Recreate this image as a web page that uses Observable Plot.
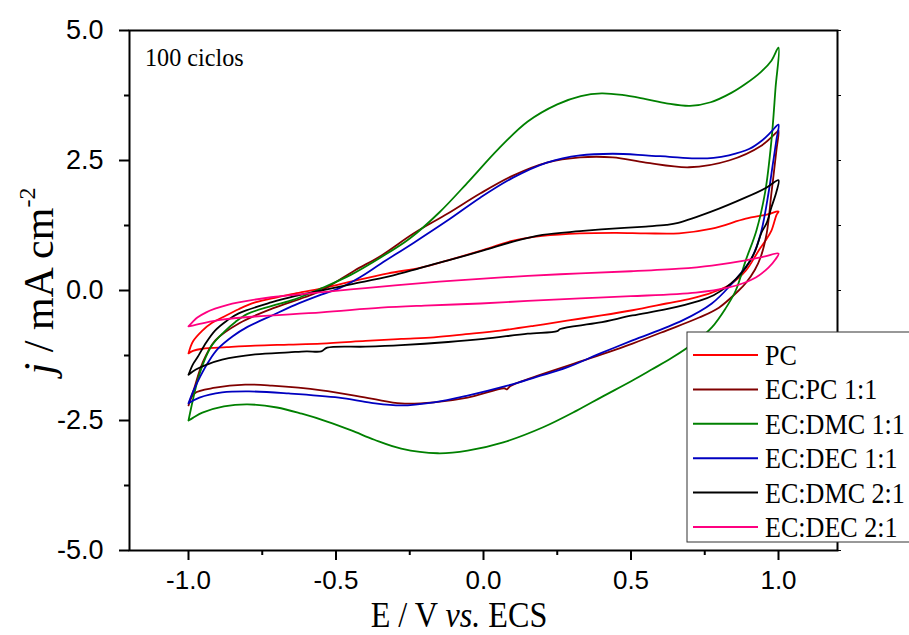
<!DOCTYPE html>
<html><head><meta charset="utf-8">
<script src="https://cdn.jsdelivr.net/npm/d3@7"></script>
<script src="https://cdn.jsdelivr.net/npm/@observablehq/plot@0.6"></script>
<style>body{margin:0;background:#fff}</style>
</head><body><div id="chart"></div>
<script>
const seriesNames = ["PC", "EC:PC 1:1", "EC:DMC 1:1", "EC:DEC 1:1", "EC:DMC 2:1", "EC:DEC 2:1"];
const seriesColors = ["#ff0000", "#800000", "#008000", "#0000c0", "#000000", "#ff0080"];
const xTicks = [-1.0, -0.5, 0.0, 0.5, 1.0];
const xMinorTicks = [-0.75, -0.25, 0.25, 0.75];
const yTicks = [-5, -2.5, 0, 2.5, 5];
const yMinorTicks = [-3.75, -1.25, 1.25, 3.75];
const annotation = "100 ciclos";

// [E (V vs ECS), j (mA cm-2)] closed loops: anodic sweep then cathodic sweep
const loopPC = [
  [-1.0,-1.21],[-0.985,-0.98],[-0.953,-0.77],[-0.92,-0.62],[-0.886,-0.52],[-0.83,-0.36],[-0.774,-0.23],[-0.70,-0.13],[-0.64,-0.06],[-0.549,0.04],[-0.45,0.17],[-0.323,0.33],[-0.212,0.44],[-0.121,0.58],[0.0,0.78],[0.101,0.96],[0.2,1.05],[0.327,1.10],[0.45,1.11],[0.55,1.10],[0.663,1.10],[0.774,1.19],[0.889,1.38],[0.96,1.46],[1.0,1.52],
  [0.993,1.45],[0.976,1.15],[0.955,0.95],[0.933,0.77],[0.889,0.38],[0.832,0.10],[0.774,-0.04],[0.707,-0.15],[0.62,-0.25],[0.505,-0.38],[0.4,-0.48],[0.283,-0.58],[0.17,-0.68],[0.057,-0.77],[-0.06,-0.84],[-0.168,-0.90],[-0.279,-0.93],[-0.4,-0.97],[-0.549,-1.02],[-0.66,-1.04],[-0.774,-1.06],[-0.87,-1.09],[-0.953,-1.12],[-0.985,-1.16],[-1.0,-1.21]
];
const loopECPC = [
  [-1.0,-2.21],[-0.98,-1.87],[-0.953,-1.40],[-0.909,-0.96],[-0.828,-0.63],[-0.717,-0.35],[-0.606,-0.13],[-0.549,0.0],[-0.438,0.38],[-0.347,0.67],[-0.236,1.10],[-0.121,1.48],[-0.01,1.87],[0.10,2.21],[0.215,2.46],[0.327,2.56],[0.438,2.56],[0.55,2.46],[0.697,2.37],[0.832,2.5],[0.943,2.79],[0.993,3.04],[1.0,3.08],
  [0.993,2.7],[0.976,1.87],[0.96,1.1],[0.94,0.65],[0.92,0.4],[0.89,0.15],[0.865,0.0],[0.798,-0.33],[0.731,-0.52],[0.62,-0.77],[0.505,-1.02],[0.337,-1.35],[0.168,-1.67],[0.09,-1.84],[0.08,-1.9],[0.07,-1.88],[-0.054,-2.06],[-0.168,-2.15],[-0.279,-2.17],[-0.38,-2.08],[-0.549,-1.92],[-0.717,-1.83],[-0.808,-1.81],[-0.909,-1.87],[-0.98,-1.98],[-1.0,-2.21]
];
const loopECDMC11 = [
  [-1.0,-2.5],[-0.985,-2.1],[-0.97,-1.75],[-0.95,-1.4],[-0.92,-1.05],[-0.88,-0.8],[-0.84,-0.6],[-0.8,-0.45],[-0.72,-0.3],[-0.64,-0.17],[-0.55,0.04],[-0.45,0.3],[-0.35,0.63],[-0.25,1.0],[-0.15,1.5],[-0.05,2.1],[0.05,2.72],[0.15,3.25],[0.25,3.58],[0.33,3.74],[0.4,3.79],[0.47,3.76],[0.55,3.68],[0.62,3.6],[0.7,3.55],[0.77,3.62],[0.84,3.8],[0.89,3.98],[0.94,4.2],[0.976,4.42],[1.0,4.67],
  [0.99,3.9],[0.976,2.88],[0.955,1.9],[0.925,1.15],[0.889,0.58],[0.855,0.0],[0.82,-0.35],[0.774,-0.71],[0.72,-0.98],[0.64,-1.29],[0.57,-1.52],[0.505,-1.73],[0.4,-2.05],[0.316,-2.31],[0.202,-2.63],[0.067,-2.92],[-0.054,-3.08],[-0.155,-3.13],[-0.279,-3.04],[-0.37,-2.87],[-0.448,-2.69],[-0.53,-2.52],[-0.616,-2.37],[-0.70,-2.25],[-0.80,-2.19],[-0.88,-2.23],[-0.953,-2.35],[-0.985,-2.45],[-1.0,-2.5]
];
const loopECDEC11 = [
  [-1.0,-2.17],[-0.985,-1.95],[-0.96,-1.65],[-0.93,-1.35],[-0.9,-1.12],[-0.85,-0.88],[-0.8,-0.70],[-0.717,-0.48],[-0.64,-0.28],[-0.55,-0.08],[-0.49,0.04],[-0.42,0.25],[-0.347,0.52],[-0.236,0.92],[-0.121,1.35],[-0.01,1.79],[0.10,2.17],[0.215,2.46],[0.327,2.6],[0.438,2.63],[0.55,2.6],[0.63,2.57],[0.717,2.54],[0.78,2.55],[0.832,2.6],[0.9,2.72],[0.943,2.88],[0.975,3.05],[1.0,3.19],
  [0.993,2.9],[0.98,2.4],[0.966,1.87],[0.94,1.1],[0.909,0.62],[0.875,0.35],[0.842,0.13],[0.774,-0.25],[0.673,-0.58],[0.505,-0.96],[0.4,-1.2],[0.283,-1.48],[0.18,-1.66],[0.081,-1.83],[-0.054,-2.02],[-0.168,-2.15],[-0.279,-2.21],[-0.38,-2.16],[-0.49,-2.06],[-0.66,-1.98],[-0.795,-1.94],[-0.886,-1.96],[-0.963,-2.06],[-1.0,-2.17]
];
const loopECDMC21 = [
  [-1.0,-1.62],[-0.985,-1.42],[-0.97,-1.29],[-0.94,-1.0],[-0.91,-0.77],[-0.87,-0.58],[-0.83,-0.44],[-0.72,-0.23],[-0.64,-0.11],[-0.55,0.0],[-0.45,0.12],[-0.32,0.27],[-0.21,0.44],[-0.12,0.58],[0.0,0.77],[0.10,0.94],[0.2,1.07],[0.327,1.14],[0.438,1.19],[0.55,1.23],[0.62,1.26],[0.66,1.30],[0.774,1.52],[0.889,1.79],[0.96,1.98],[1.0,2.12],
  [0.993,1.9],[0.976,1.6],[0.96,1.3],[0.943,1.12],[0.92,0.75],[0.889,0.44],[0.855,0.22],[0.822,0.06],[0.78,-0.09],[0.731,-0.2],[0.62,-0.36],[0.505,-0.48],[0.39,-0.62],[0.26,-0.74],[0.25,-0.78],[0.15,-0.83],[0.0,-0.93],[-0.12,-0.99],[-0.279,-1.05],[-0.4,-1.08],[-0.53,-1.10],[-0.55,-1.17],[-0.6,-1.17],[-0.66,-1.19],[-0.774,-1.23],[-0.886,-1.33],[-0.94,-1.43],[-0.975,-1.52],[-1.0,-1.62]
];
const loopECDEC21 = [
  [-1.0,-0.69],[-0.985,-0.6],[-0.97,-0.52],[-0.94,-0.42],[-0.91,-0.35],[-0.87,-0.28],[-0.83,-0.23],[-0.72,-0.13],[-0.6,-0.06],[-0.45,0.02],[-0.3,0.1],[-0.15,0.17],[0.0,0.23],[0.15,0.28],[0.327,0.33],[0.5,0.37],[0.663,0.42],[0.774,0.48],[0.889,0.58],[0.95,0.65],[1.0,0.71],
  [0.99,0.6],[0.966,0.44],[0.923,0.25],[0.88,0.14],[0.832,0.06],[0.72,-0.04],[0.5,-0.11],[0.327,-0.15],[0.15,-0.2],[-0.01,-0.25],[-0.2,-0.29],[-0.347,-0.33],[-0.549,-0.42],[-0.774,-0.5],[-0.886,-0.56],[-0.953,-0.63],[-1.0,-0.69]
];
const loops = [loopPC, loopECPC, loopECDMC11, loopECDEC11, loopECDMC21, loopECDEC21];

const rows = [];
loops.forEach((loop, i) => loop.forEach(([E, j]) => rows.push({series: seriesNames[i], E, j})));

const svg = Plot.plot({
  width: 909, height: 635,
  marginLeft: 129, marginRight: 72, marginTop: 30, marginBottom: 85,
  x: {domain: [-1.2, 1.2]},
  y: {domain: [-5, 5]},
  color: {domain: seriesNames, range: seriesColors},
  style: {fontFamily: "'Liberation Sans', Arial, sans-serif", background: "white", overflow: "hidden"},
  marks: [
    Plot.line(rows, {x: "E", y: "j", z: "series", stroke: "series", strokeWidth: 1.8, curve: "catmull-rom"}),
    Plot.frame({stroke: "black", strokeWidth: 2}),
    Plot.axisX(xTicks, {tickSize: 10, tickPadding: 10, fontSize: 26, tickFormat: d => d.toFixed(1), label: null, strokeWidth: 2, color: "black"}),
    Plot.axisX(xMinorTicks, {tickSize: 5, tickFormat: () => "", label: null, strokeWidth: 2}),
    Plot.axisY(yTicks, {tickSize: 10, tickPadding: 16, fontSize: 27, tickFormat: d => d.toFixed(1), label: null, strokeWidth: 2, color: "black"}),
    Plot.axisY(yMinorTicks, {tickSize: 5, tickFormat: () => "", label: null, strokeWidth: 2}),
    Plot.axisY(yTicks.concat(yMinorTicks), {anchor: "right", tickSize: 3, tickFormat: () => "", label: null, strokeWidth: 1})
  ]
});
document.getElementById("chart").appendChild(svg);

const s = d3.select(svg);
const serif = "'Liberation Serif', 'Times New Roman', serif";

// x axis title
const xt = s.append("text").attr("transform", "translate(459,627) scale(0.92,1)")
  .attr("text-anchor", "middle").attr("font-family", serif).attr("font-size", 35).attr("fill", "black");
xt.append("tspan").text("E / V ");
xt.append("tspan").attr("font-style", "italic").text("vs.");
xt.append("tspan").text(" ECS");

// y axis title
const yt = s.append("text").attr("transform", "translate(53,281) rotate(-90)")
  .attr("text-anchor", "middle").attr("font-family", serif).attr("font-size", 42).attr("fill", "black");
yt.append("tspan").attr("font-style", "italic").text("j");
yt.append("tspan").text(" / mA cm");
yt.append("tspan").attr("font-size", 24).attr("dy", -18).text("-2");

// annotation
s.append("text").attr("transform", "translate(145,66) scale(0.93,1)").attr("text-anchor", "start")
  .attr("font-family", serif).attr("font-size", 26).attr("fill", "black").text(annotation);

// legend
const lg = s.append("g");
lg.append("rect").attr("x", 687).attr("y", 332).attr("width", 260).attr("height", 210)
  .attr("fill", "white").attr("stroke", "#333").attr("stroke-width", 1);
seriesNames.forEach((name, i) => {
  const y = 355 + i * 34.4;
  lg.append("line").attr("x1", 693).attr("x2", 758).attr("y1", y).attr("y2", y)
    .attr("stroke", seriesColors[i]).attr("stroke-width", 2);
  lg.append("text").attr("transform", `translate(765,${y + 10}) scale(0.9,1)`).attr("text-anchor", "start")
    .attr("font-family", serif).attr("font-size", 29).attr("fill", "black").text(name);
});
</script>
</body></html>
